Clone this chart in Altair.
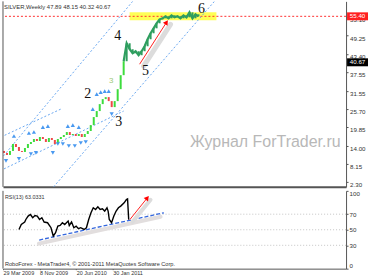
import altair as alt
import pandas as pd

# ---------------- main panel (price) ----------------
closes = [11.63, 10.99, 12.27, 14.50, 13.54, 12.27, 11.95, 13.22, 14.50, 15.14,
          16.10, 15.46, 16.74, 16.10, 15.14, 16.42, 15.78, 14.50, 16.10, 16.74,
          17.38, 18.33, 17.38, 17.70, 17.06, 17.70, 16.74, 17.70, 18.66, 20.57,
          23.13, 25.05, 27.28, 28.88, 29.52, 28.24, 26.32, 28.24, 32.07, 36.55,
          41.02, 46.77, 44.85, 43.58, 44.22, 42.94, 44.22, 45.81, 48.05, 49.97,
          51.56, 53.16, 54.44, 54.76, 55.40, 54.76, 55.72, 55.08, 55.40, 54.76,
          55.72, 55.08, 56.68, 54.76, 56.04, 55.40]
first_open = 12.27
late_from = 41

frac_up_i = [3.33, 8.33, 10, 13, 14.67, 21.33, 23, 25, 29.67, 31, 32.33, 33.67, 35]
frac_up_v = [17.06, 18.02, 18.33, 19.93, 20.25, 20.25, 20.57, 19.93, 25.68, 30.48, 31.12, 31.43, 31.43]
frac_dn_i = [0.67, 5, 9, 10.67, 16.33, 18, 19.67, 21.67, 23.67, 25.67, 27.33, 36]
frac_dn_v = [9.07, 9.71, 11.30, 11.63, 11.63, 14.50, 14.50, 13.86, 13.86, 14.82, 15.14, 24.09]

chan_i1 = [-1, 16.57, 0, -1]
chan_v1 = [9.71, 0.76, 6.52, 16.74]
chan_i2 = [43, 70.33, 40, 19]
chan_v2 = [60.19, 60.19, 25.05, 25.68]

wave_txt = ["2", "3", "4", "5", "6"]
wave_i = [28, 38.33, 38, 47.33, 66]
wave_v = [30.48, 21.53, 49.01, 37.83, 57.63]
small_txt = ["3"]
small_i = [35.83]
small_v = [34.63]

hl_i = [42, 71]
hl_v = [54.12, 56.68]

resistance = [55.40]
box_v = [55.40, 40.67]
box_txt = ["55.40", "40.67"]
box_fill = ["#ff2020", "#000000"]

price_ticks = [2.30, 8.15, 14.00, 19.85, 25.70, 31.55, 37.55, 43.40, 49.25, 55.10]

arrow_i = [45.33, 54.33]
arrow_v = [40.06, 53.48]
arrow_sh_i = [46.67, 55.67]
arrow_sh_v = [39.42, 52.84]

header = ["SILVER,Weekly  47.89 48.15 40.32 40.67"]
watermark = ["Журнал ForTrader.ru"]

# ---------------- RSI panel ----------------
rsi_week = [14, 16, 19, 20, 22, 24, 26, 28, 30, 32, 34, 36, 39, 42, 44, 46, 48, 50, 52, 54,
            57, 58, 60, 62, 64, 66, 68, 71, 73, 75, 77, 79, 81, 83, 85, 87, 89, 91, 92, 93,
            95, 97, 99, 101, 103, 106, 108, 109, 110]
rsi_val = [50.4, 56.8, 59.9, 63.2, 67.6, 69.6, 65.4, 68.3, 67.6, 63.2,
           65.4, 59.9, 59.0, 52.6, 41.9, 46.2, 54.7, 55.5, 59.0, 56.8,
           61.2, 55.5, 59.9, 52.6, 54.7, 51.3, 52.6, 50.4, 52.6, 63.2,
           71.8, 78.2, 76.0, 79.5, 76.0, 76.9, 74.0, 78.2, 74.0, 63.2,
           59.0, 67.6, 74.0, 78.2, 80.4, 84.6, 88.8, 89.7, 63.0]
rsi_levels = [30, 50, 70]
rsi_ticks = [0, 30, 50, 70, 100]
date_ticks = [0, 32, 64, 96]
date_labels = ["29 Mar 2009", "8 Nov 2009", "20 Jun 2010", "30 Jan 2011"]
trend_w = [31.7, 140.8]
trend_v = [36.8, 71.8]
trend_sh_w = [31.4, 137.9]
trend_sh_v = [32.1, 66.7]
rsi_arrow_w = [111.1, 126.3]
rsi_arrow_v = [63.2, 91.0]
rsi_arrow_sh_w = [113.4, 129.1]
rsi_arrow_sh_v = [60.3, 88.5]
rsi_caption = ["RSI(13) 63.0331"]
footer = ["RoboForex - MetaTrader4, \u00a9 2001-2011 MetaQuotes Software Corp."]

FONT = "Liberation Sans"
W, H1, H2 = 344, 186, 78

# ---------------- build tables ----------------
opens = [first_open] + closes[:-1]
kinds = []
for k, (o, c) in enumerate(zip(opens, closes)):
    if k >= late_from:
        kinds.append("late")
    else:
        kinds.append("up" if c >= o else "down")
bars_df = pd.DataFrame({"i": list(range(len(closes))), "o": opens, "c": closes, "kind": kinds})
late_df = bars_df[bars_df["i"] >= late_from - 1]

xs = alt.Scale(domain=[-0.333, 114.333], nice=False, zero=False)
ys = alt.Scale(domain=[0.766, 60.19], nice=False, zero=False)

main_x_axis = alt.Axis(labels=False, ticks=False, grid=False, title=None,
                       domainColor="#555555", domainWidth=2)
main_y_axis = alt.Axis(orient="right", values=price_ticks, format=".2f", labelFontSize=6.2,
                       labelFont=FONT, labelColor="#333333", tickSize=2, tickColor="#555555",
                       domainColor="#555555", labelOffset=2.5, labelPadding=1.5, grid=False,
                       title=None)


def MX(f):
    return alt.X(f, type="quantitative", scale=xs, axis=main_x_axis)


def MY(f):
    return alt.Y(f, type="quantitative", scale=ys, axis=main_y_axis)


hl = alt.Chart(pd.DataFrame({"x1": [hl_i[0]], "x2": [hl_i[1]], "y1": [hl_v[0]], "y2": [hl_v[1]]})).mark_rect(
    color="#ffff55").encode(x=MX("x1"), x2="x2", y=MY("y1"), y2="y2")

res = alt.Chart(pd.DataFrame({"v": resistance})).mark_rule(
    color="#ff3030", strokeDash=[2, 2], strokeWidth=1).encode(y=MY("v"))

chan = alt.Chart(pd.DataFrame({"x1": chan_i1, "y1": chan_v1, "x2": chan_i2, "y2": chan_v2})).mark_rule(
    color="#6aa8f0", strokeDash=[2, 2], strokeWidth=1, clip=True).encode(
    x=MX("x1"), x2="x2", y=MY("y1"), y2="y2")

arr_sh = alt.Chart(pd.DataFrame({"x1": [arrow_sh_i[0]], "x2": [arrow_sh_i[1]],
                                 "y1": [arrow_sh_v[0]], "y2": [arrow_sh_v[1]]})).mark_rule(
    color="#dcdcdc", strokeWidth=5, strokeCap="round").encode(x=MX("x1"), x2="x2", y=MY("y1"), y2="y2")

bars = alt.Chart(bars_df).mark_rule(strokeWidth=2).encode(
    x=MX("i"), y=MY("o"), y2="c",
    color=alt.Color("kind:N", scale=alt.Scale(domain=["up", "down", "late"],
                                              range=["#3ddc3d", "#f04848", "#2f9e5f"]), legend=None))

late = alt.Chart(late_df).mark_line(color="#2f9e5f", strokeWidth=2.2).encode(x=MX("i"), y=MY("c"))

fr_up = alt.Chart(pd.DataFrame({"i": frac_up_i, "v": frac_up_v})).mark_point(
    shape="triangle-up", filled=True, size=18, color="#3f94ef", opacity=0.95).encode(x=MX("i"), y=MY("v"))
fr_dn = alt.Chart(pd.DataFrame({"i": frac_dn_i, "v": frac_dn_v})).mark_point(
    shape="triangle-down", filled=True, size=18, color="#3f94ef", opacity=0.95).encode(x=MX("i"), y=MY("v"))

arr = alt.Chart(pd.DataFrame({"x1": [arrow_i[0]], "x2": [arrow_i[1]], "y1": [arrow_v[0]], "y2": [arrow_v[1]]})).mark_rule(
    color="#ff2020", strokeWidth=1).encode(x=MX("x1"), x2="x2", y=MY("y1"), y2="y2")
arr_head = alt.Chart(pd.DataFrame({"i": [arrow_i[1]], "v": [arrow_v[1]]})).mark_point(
    shape="triangle-up", filled=True, size=30, angle=33, color="#ff0000", opacity=1).encode(x=MX("i"), y=MY("v"))

waves = alt.Chart(pd.DataFrame({"i": wave_i, "v": wave_v, "t": wave_txt})).mark_text(
    font="Liberation Serif", fontSize=14, color="#111111").encode(x=MX("i"), y=MY("v"), text="t:N")
small = alt.Chart(pd.DataFrame({"i": small_i, "v": small_v, "t": small_txt})).mark_text(
    font=FONT, fontSize=8, color="#9cc878").encode(x=MX("i"), y=MY("v"), text="t:N")

wm = alt.Chart(pd.DataFrame({"t": watermark})).mark_text(
    font=FONT, fontSize=16, color="#b8b8b8").encode(x=alt.value(263), y=alt.value(141), text="t:N")
hdr = alt.Chart(pd.DataFrame({"t": header})).mark_text(
    font=FONT, fontSize=5.9, color="#333333", align="left", baseline="middle").encode(
    x=alt.value(1), y=alt.value(6), text="t:N")

left1 = alt.Chart(pd.DataFrame({"a": [0]})).mark_rule(color="#555555").encode(
    x=alt.value(0), y=alt.value(0), y2=alt.value(H1))

box_df = pd.DataFrame({"v": box_v, "t": box_txt, "f": box_fill})
box_shape = "M-1,-0.38H1V0.38H-1Z"
boxes = alt.Chart(box_df).mark_point(shape=box_shape, filled=True, size=441, opacity=1).encode(
    x=alt.value(355.5), y=MY("v"), color=alt.Color("f:N", scale=None))
box_txt_l = alt.Chart(box_df).mark_text(font=FONT, fontSize=6.2, color="white").encode(
    x=alt.value(355.5), y=MY("v"), text="t:N")

main = alt.layer(hl, res, chan, arr_sh, bars, late, fr_up, fr_dn, arr, arr_head, waves, small,
                 wm, hdr, left1, boxes, box_txt_l).properties(width=W, height=H1)

# ---------------- RSI panel ----------------
rx = alt.Scale(domain=[0, 300.2], nice=False, zero=False)
ry = alt.Scale(domain=[0, 100], nice=False, zero=False)

expr = "''"
for tv, tl in reversed(list(zip(date_ticks, date_labels))):
    expr = f"datum.value == {tv} ? '{tl}' : ({expr})"

rsi_x_axis = alt.Axis(values=date_ticks, labelExpr=expr, labelAlign="left", labelFontSize=5.5,
                      labelFont=FONT, labelColor="#333333", tickSize=1, tickColor="#555555",
                      labelPadding=0.5, domainColor="#555555", grid=False, title=None,
                      labelFlush=False, labelOverlap=False)
rsi_y_axis = alt.Axis(orient="right", values=rsi_ticks, labelFlush=True, labelFontSize=6.2,
                      labelFont=FONT, labelColor="#333333", tickSize=2, tickColor="#555555",
                      labelPadding=1, domainColor="#555555", grid=False, title=None)


def RX(f):
    return alt.X(f, type="quantitative", scale=rx, axis=rsi_x_axis)


def RY(f):
    return alt.Y(f, type="quantitative", scale=ry, axis=rsi_y_axis)


grid = alt.Chart(pd.DataFrame({"v": rsi_levels})).mark_rule(
    color="#c4c4c4", strokeDash=[1, 2]).encode(y=RY("v"))

tr_sh = alt.Chart(pd.DataFrame({"x1": [trend_sh_w[0]], "x2": [trend_sh_w[1]],
                                "y1": [trend_sh_v[0]], "y2": [trend_sh_v[1]]})).mark_rule(
    color="#e2dede", strokeWidth=4, strokeCap="round").encode(x=RX("x1"), x2="x2", y=RY("y1"), y2="y2")
tr = alt.Chart(pd.DataFrame({"x1": [trend_w[0]], "x2": [trend_w[1]],
                             "y1": [trend_v[0]], "y2": [trend_v[1]]})).mark_rule(
    color="#3366dd", strokeDash=[4, 2], strokeWidth=1.3).encode(x=RX("x1"), x2="x2", y=RY("y1"), y2="y2")

rsi_line = alt.Chart(pd.DataFrame({"w": rsi_week, "v": rsi_val})).mark_line(
    color="#000000", strokeWidth=1.4).encode(x=RX("w"), y=RY("v"))

rarr_sh = alt.Chart(pd.DataFrame({"x1": [rsi_arrow_sh_w[0]], "x2": [rsi_arrow_sh_w[1]],
                                  "y1": [rsi_arrow_sh_v[0]], "y2": [rsi_arrow_sh_v[1]]})).mark_rule(
    color="#dcdcdc", strokeWidth=4, strokeCap="round").encode(x=RX("x1"), x2="x2", y=RY("y1"), y2="y2")
rarr = alt.Chart(pd.DataFrame({"x1": [rsi_arrow_w[0]], "x2": [rsi_arrow_w[1]],
                               "y1": [rsi_arrow_v[0]], "y2": [rsi_arrow_v[1]]})).mark_rule(
    color="#ff2020", strokeWidth=1).encode(x=RX("x1"), x2="x2", y=RY("y1"), y2="y2")
rarr_head = alt.Chart(pd.DataFrame({"w": [rsi_arrow_w[1]], "v": [rsi_arrow_v[1]]})).mark_point(
    shape="triangle-up", filled=True, size=30, angle=39, color="#ff0000", opacity=1).encode(x=RX("w"), y=RY("v"))

cap = alt.Chart(pd.DataFrame({"t": rsi_caption})).mark_text(
    font=FONT, fontSize=5.4, color="#333333", align="left", baseline="middle").encode(
    x=alt.value(2), y=alt.value(6), text="t:N")
foot = alt.Chart(pd.DataFrame({"t": footer})).mark_text(
    font=FONT, fontSize=5.6, color="#333333", align="left", baseline="middle").encode(
    x=alt.value(2), y=alt.value(73), text="t:N")
left2 = alt.Chart(pd.DataFrame({"a": [0]})).mark_rule(color="#555555").encode(
    x=alt.value(0), y=alt.value(0), y2=alt.value(H2))

rsi = alt.layer(grid, tr_sh, tr, rsi_line, rarr_sh, rarr, rarr_head, cap, foot, left2).properties(
    width=W, height=H2)

chart = alt.vconcat(main, rsi, spacing=2).resolve_scale(x="independent", y="independent").configure(
    font=FONT, background="white", padding={"left": 2, "top": 0, "right": 0, "bottom": 0}
).configure_view(stroke=None)

chart.save("out.html", embed_options={"renderer": "svg", "actions": False})
